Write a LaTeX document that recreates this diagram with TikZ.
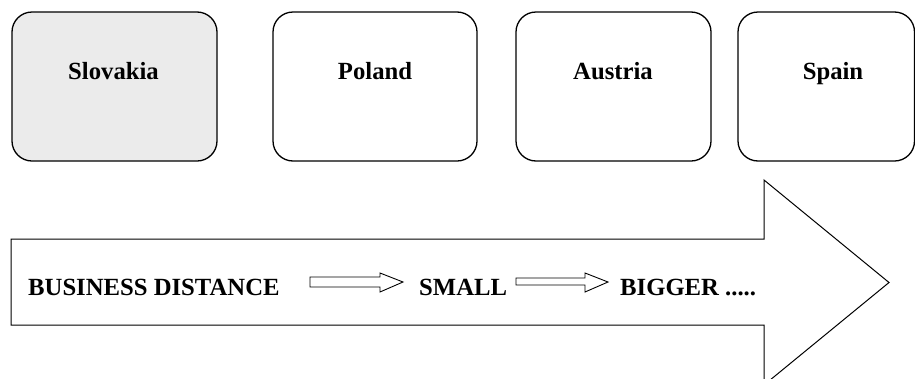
\documentclass[tikz,border=0pt]{standalone}
\usepackage{fontspec}
\setmainfont{Liberation Serif}
\begin{document}
\begin{tikzpicture}[x=1pt,y=-1pt,
  country/.style={draw=black,line width=1.3pt,rounded corners=20pt},
  lbl/.style={font=\fontsize{24.7}{28}\selectfont\bfseries,inner sep=0pt,anchor=base},
  blockarrow/.style={draw=black,line width=1pt,fill=white,line join=miter}]
\useasboundingbox (0,0) rectangle (915,378);
\begin{scope}
\clip (0,0) rectangle (915,378);
% country boxes
\draw[country,fill={rgb,255:red,235;green,235;blue,235}] (12,12) rectangle (217,161);
\draw[country] (273,12) rectangle (477,161);
\draw[country] (516,12) rectangle (711,161);
\draw[country] (738,12) rectangle (914.5,161);
\node[lbl] (slovakia) at (113.5,79) {Slovakia};
\node[lbl] (poland) at (375,79) {Poland};
\node[lbl] (austria) at (613,79) {Austria};
\node[lbl] (spain) at (833,79) {Spain};
% big arrow
\draw[blockarrow] (11,239) -- (764,239) -- (764,180) -- (889,282.5) -- (764,385) -- (764,325) -- (11,325) -- cycle;
\end{scope}
% texts
\node[lbl,anchor=base west] (bd) at (28,295) {BUSINESS DISTANCE};
\node[lbl,anchor=base west] (small) at (419,295) {SMALL};
\node[lbl,anchor=base west] (bigger) at (620,295) {BIGGER .....};
% small block arrows
\draw[blockarrow,line width=0.9pt] (310,277) -- (380,277) -- (380,273) -- (403,282) -- (380,292) -- (380,287) -- (310,287) -- cycle;
\draw[blockarrow,line width=0.9pt] (516,278) -- (585,278) -- (585,273) -- (608,282) -- (585,292) -- (585,285) -- (516,285) -- cycle;
\end{tikzpicture}
\end{document}
